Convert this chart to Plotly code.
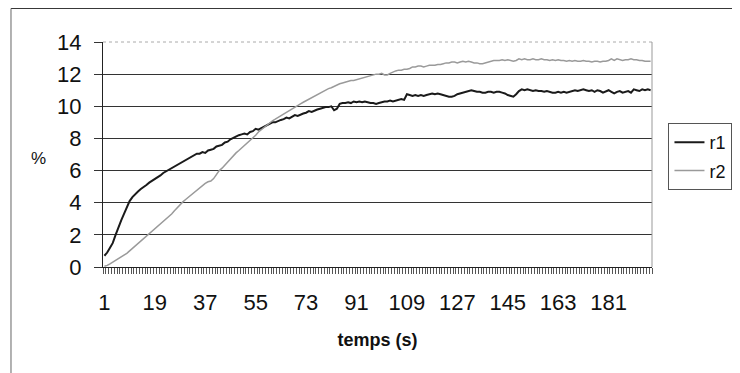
import plotly.graph_objects as go

# time index (s) : 1..196
temps = list(range(1, 197))

r1 = [0.7, 0.9, 1.2, 1.5, 2.0, 2.5, 2.9, 3.3, 3.7, 4.1,
      4.35, 4.55, 4.7, 4.85, 4.95, 5.1, 5.25, 5.35, 5.45, 5.6,
      5.7, 5.85, 5.95, 6.05, 6.15, 6.2, 6.35, 6.45, 6.55, 6.6,
      6.7, 6.8, 6.9, 7.05, 7.05, 7.15, 7.1, 7.25, 7.3, 7.35,
      7.5, 7.55, 7.6, 7.75, 7.8, 7.95, 8.05, 8.1, 8.2, 8.25,
      8.3, 8.25, 8.4, 8.45, 8.6, 8.55, 8.65, 8.75, 8.8, 8.9,
      9.0, 9.0, 9.1, 9.15, 9.2, 9.3, 9.25, 9.35, 9.45, 9.4,
      9.5, 9.55, 9.6, 9.7, 9.65, 9.75, 9.8, 9.85, 9.9, 9.95,
      9.95, 10.0, 9.75, 9.85, 10.15, 10.2, 10.2, 10.25, 10.2, 10.3,
      10.25, 10.3, 10.25, 10.3, 10.25, 10.2, 10.2, 10.15, 10.2, 10.25,
      10.3, 10.3, 10.35, 10.3, 10.35, 10.4, 10.45, 10.4, 10.75, 10.7,
      10.65, 10.7, 10.65, 10.7, 10.65, 10.7, 10.75, 10.8, 10.75, 10.8,
      10.75, 10.7, 10.65, 10.6, 10.6, 10.65, 10.75, 10.8, 10.85, 10.9,
      10.95, 11.0, 10.95, 10.9, 10.9, 10.85, 10.85, 10.9, 10.9, 10.85,
      10.9, 10.9, 10.85, 10.8, 10.7, 10.65, 10.6, 10.75, 10.95, 11.05,
      11.0, 11.05, 11.0, 10.95, 11.0, 10.95, 10.95, 10.9, 10.95, 10.9,
      10.85, 10.85, 10.9, 10.85, 10.9, 10.85, 10.9, 10.95, 11.0, 10.95,
      11.0, 11.05, 11.0, 10.95, 11.0, 10.9, 11.0, 10.95, 10.85, 10.95,
      11.0, 10.9, 10.8, 10.9, 10.95, 10.85, 10.9, 10.95, 10.85, 11.05,
      11.0, 10.95, 11.05, 11.0, 11.05, 11.0]

r2 = [0.05, 0.1, 0.2, 0.3, 0.4, 0.5, 0.6, 0.75, 0.85, 1.0,
      1.15, 1.35, 1.5, 1.65, 1.8, 1.95, 2.05, 2.2, 2.35, 2.5,
      2.65, 2.8, 2.95, 3.15, 3.3, 3.5, 3.7, 3.9, 4.05, 4.2,
      4.35, 4.5, 4.65, 4.75, 4.9, 5.05, 5.2, 5.3, 5.35, 5.5,
      5.75, 6.0, 6.15, 6.35, 6.55, 6.7, 6.9, 7.1, 7.25, 7.4,
      7.55, 7.75, 7.9, 8.05, 8.2, 8.4, 8.55, 8.7, 8.85, 9.0,
      9.1, 9.2, 9.3, 9.4, 9.5, 9.6, 9.7, 9.8, 9.95, 10.05,
      10.15, 10.25, 10.35, 10.45, 10.55, 10.65, 10.75, 10.85, 10.9, 11.0,
      11.1, 11.15, 11.25, 11.3, 11.4, 11.45, 11.5, 11.55, 11.6, 11.6,
      11.65, 11.7, 11.75, 11.8, 11.85, 11.9, 11.95, 12.0, 12.0, 12.05,
      11.95, 11.95, 12.05, 12.15, 12.2, 12.25, 12.25, 12.3, 12.3, 12.35,
      12.45, 12.45, 12.5, 12.5, 12.45, 12.5, 12.55, 12.55, 12.55, 12.6,
      12.6, 12.65, 12.7, 12.7, 12.75, 12.75, 12.7, 12.75, 12.8, 12.75,
      12.8, 12.75, 12.7, 12.7, 12.65, 12.65, 12.7, 12.75, 12.8, 12.85,
      12.85, 12.85, 12.9, 12.85, 12.9, 12.85, 12.8, 12.85, 12.95, 12.9,
      12.95, 12.9, 12.9, 12.95, 12.9, 12.9, 12.95, 12.9, 12.9, 12.85,
      12.9, 12.85, 12.9, 12.85, 12.85, 12.8, 12.85, 12.8, 12.85, 12.8,
      12.8, 12.85, 12.8, 12.8, 12.75, 12.8, 12.8, 12.75, 12.8, 12.8,
      12.85, 12.95, 12.85, 12.95, 12.9, 12.85, 12.9, 12.9, 12.95, 12.9,
      12.9, 12.85, 12.85, 12.8, 12.8, 12.8]

x_tick_vals = [1, 19, 37, 55, 73, 91, 109, 127, 145, 163, 181]
x_tick_text = [str(v) for v in x_tick_vals]
y_tick_vals = [0, 2, 4, 6, 8, 10, 12, 14]

FONT = "Liberation Sans, Arial, sans-serif"

fig = go.Figure()
fig.add_trace(go.Scatter(x=temps, y=r1, mode="lines", name="r1", legendgroup="a",
                         line=dict(color="#1a1a1a", width=2)))
fig.add_trace(go.Scatter(x=temps, y=r2, mode="lines", name="r2", legendgroup="b",
                         line=dict(color="#9a9a9a", width=1.5)))

fig.update_layout(
    width=740, height=373,
    margin=dict(l=95, r=96, t=34, b=114, autoexpand=False),
    paper_bgcolor="white", plot_bgcolor="white",
    font=dict(family=FONT, color="#111", size=22),
    showlegend=True,
    legend=dict(x=1.03, y=0.64, xanchor="left", yanchor="top",
                bordercolor="#555", borderwidth=1,
                font=dict(size=18), bgcolor="white",
                itemwidth=30, tracegroupgap=2),
    xaxis=dict(range=[0.5, 196.5], tickmode="array",
               tickvals=x_tick_vals, ticktext=x_tick_text,
               ticks="", showgrid=False, zeroline=False,
               showline=True, linecolor="#222", linewidth=1,
               tickfont=dict(size=22), ticklabelstandoff=16,
               minor=dict(ticks="outside", tick0=0.5, dtick=1,
                          ticklen=6, tickcolor="#555", tickwidth=1,
                          showgrid=False),
               title=dict(text="<b>temps (s)</b>", font=dict(size=18),
                          standoff=18)),
    yaxis=dict(range=[0, 14], tickmode="array", tickvals=y_tick_vals,
               ticks="outside", ticklen=8, tickcolor="#333",
               showgrid=True, gridcolor="#333", gridwidth=1,
               zeroline=False, showline=True, linecolor="#222",
               linewidth=1, tickfont=dict(size=22), ticklabelstandoff=8),
)

# plot-area border (light grey, top and right)
fig.add_shape(type="line", xref="paper", yref="paper", x0=0, x1=1, y0=1, y1=1,
              line=dict(color="#aaa", width=1, dash="dot"))
fig.add_shape(type="line", xref="paper", yref="paper", x0=1, x1=1, y0=0, y1=1,
              line=dict(color="#999", width=1))

# chart-area outer frame (top and left edges)
fig.add_shape(type="line", xref="paper", yref="paper",
              x0=-0.1676, x1=1.2, y0=1.149, y1=1.149,
              line=dict(color="#333", width=1))
fig.add_shape(type="line", xref="paper", yref="paper",
              x0=-0.1676, x1=-0.1676, y0=1.149, y1=-0.6,
              line=dict(color="#666", width=1))

fig.add_annotation(text="%", xref="paper", yref="paper",
                   x=(38 - 103) / 549, y=(267 - 158) / 225,
                   showarrow=False, font=dict(size=17),
                   xanchor="center", yanchor="middle")

fig.write_html("out.html")
